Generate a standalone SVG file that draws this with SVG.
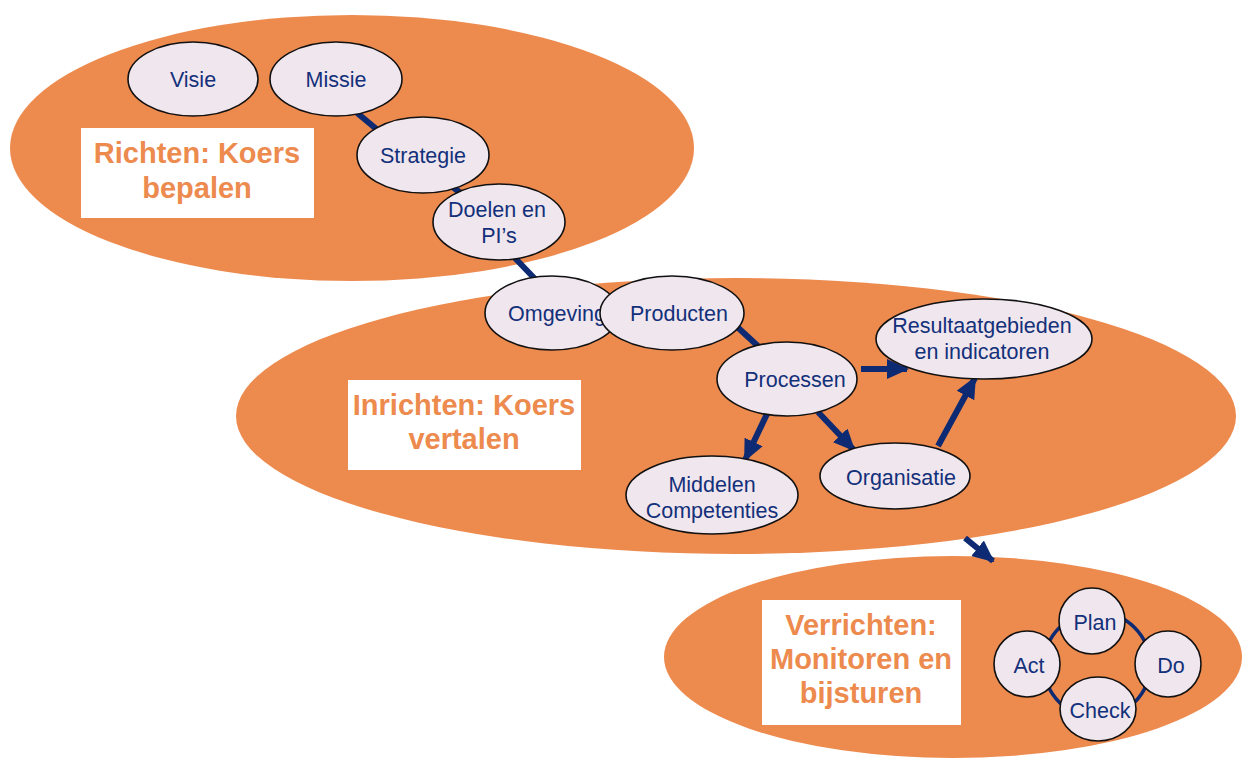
<svg xmlns="http://www.w3.org/2000/svg" width="1260" height="758" viewBox="0 0 1260 758">
<style>
.zone{fill:#ED8A4E;}
.lbl{fill:#fff;}
.lt{font-family:"Liberation Sans",Arial,sans-serif;font-weight:bold;font-size:29px;fill:#ED8A4E;text-anchor:middle;}
.nd{fill:#F0E6EE;stroke:#111;stroke-width:1.6;}
.nt{font-family:"Liberation Sans",Arial,sans-serif;font-size:21.5px;fill:#13307A;text-anchor:middle;}
.ln{stroke:#0D2A72;stroke-width:6;fill:none;}
.ar{stroke:#0D2A72;stroke-width:6;fill:none;marker-end:url(#ah);}
.ring{stroke:#0D2A72;stroke-width:3.5;fill:none;}
</style>
<defs>
<marker id="ah" markerUnits="userSpaceOnUse" markerWidth="22" markerHeight="22" viewBox="0 0 22 22" refX="20" refY="11" orient="auto">
<path d="M0,1 L22,11 L0,21 Z" fill="#0D2A72"/>
</marker>
</defs>
<g id="zones">
<ellipse class="zone" cx="352" cy="148" rx="342" ry="133"/>
<ellipse class="zone" cx="736" cy="416" rx="500" ry="138"/>
<ellipse class="zone" cx="953" cy="657" rx="289" ry="101"/>
</g>
<g id="connectors">
<line class="ln" x1="356" y1="112" x2="380" y2="132"/>
<line class="ln" x1="450" y1="185" x2="470" y2="200"/>
<line class="ln" x1="512" y1="255" x2="537" y2="281"/>
<line class="ln" x1="733" y1="323" x2="760" y2="348"/>
<line class="ar" x1="861" y1="369" x2="907" y2="369"/>
<line class="ar" x1="767" y1="414" x2="745" y2="460"/>
<line class="ar" x1="818" y1="412" x2="854" y2="450"/>
<line class="ar" x1="938" y1="446" x2="975" y2="378"/>
<line class="ar" x1="965" y1="538" x2="993" y2="561"/>
<circle class="ring" cx="1097" cy="665" r="53"/>
</g>
<g id="label-richten">
<rect class="lbl" x="81" y="128" width="233" height="90"/>
<text class="lt" x="197" y="163">Richten: Koers</text>
<text class="lt" x="197" y="198">bepalen</text>
</g>
<g id="label-inrichten">
<rect class="lbl" x="348" y="380" width="233" height="90"/>
<text class="lt" x="464" y="415">Inrichten: Koers</text>
<text class="lt" x="464" y="449">vertalen</text>
</g>
<g id="label-verrichten">
<rect class="lbl" x="762" y="600" width="199" height="125"/>
<text class="lt" x="861" y="635">Verrichten:</text>
<text class="lt" x="861" y="669">Monitoren en</text>
<text class="lt" x="861" y="703">bijsturen</text>
</g>
<g id="visie"><ellipse class="nd" cx="193" cy="79" rx="65" ry="37"/><text class="nt" x="193" y="87">Visie</text></g>
<g id="missie"><ellipse class="nd" cx="336" cy="79" rx="66" ry="37"/><text class="nt" x="336" y="87">Missie</text></g>
<g id="strategie"><ellipse class="nd" cx="423" cy="155" rx="66" ry="38"/><text class="nt" x="423" y="163">Strategie</text></g>
<g id="doelen"><ellipse class="nd" cx="499" cy="222" rx="66" ry="38"/><text class="nt" x="497" y="217">Doelen en</text><text class="nt" x="499" y="243">PI’s</text></g>
<g id="omgeving"><ellipse class="nd" cx="552" cy="313" rx="67" ry="37"/><text class="nt" x="557" y="321">Omgeving</text></g>
<g id="producten"><ellipse class="nd" cx="672" cy="313" rx="72" ry="37"/><text class="nt" x="679" y="321">Producten</text></g>
<g id="processen"><ellipse class="nd" cx="787" cy="379" rx="70" ry="37"/><text class="nt" x="795" y="387">Processen</text></g>
<g id="resultaat"><ellipse class="nd" cx="984" cy="339" rx="108" ry="40"/><text class="nt" x="982" y="333">Resultaatgebieden</text><text class="nt" x="982" y="359">en indicatoren</text></g>
<g id="middelen"><ellipse class="nd" cx="712" cy="495" rx="86" ry="39"/><text class="nt" x="712" y="492">Middelen</text><text class="nt" x="712" y="518">Competenties</text></g>
<g id="organisatie"><ellipse class="nd" cx="895" cy="476" rx="75" ry="33"/><text class="nt" x="901" y="485">Organisatie</text></g>
<g id="plan"><circle class="nd" cx="1092" cy="621" r="33"/><text class="nt" x="1095" y="630">Plan</text></g>
<g id="do"><circle class="nd" cx="1168" cy="664" r="33"/><text class="nt" x="1171" y="673">Do</text></g>
<g id="act"><circle class="nd" cx="1027" cy="664" r="33"/><text class="nt" x="1029" y="673">Act</text></g>
<g id="check"><ellipse class="nd" cx="1098" cy="709" rx="38" ry="32"/><text class="nt" x="1100" y="718">Check</text></g>
</svg>
